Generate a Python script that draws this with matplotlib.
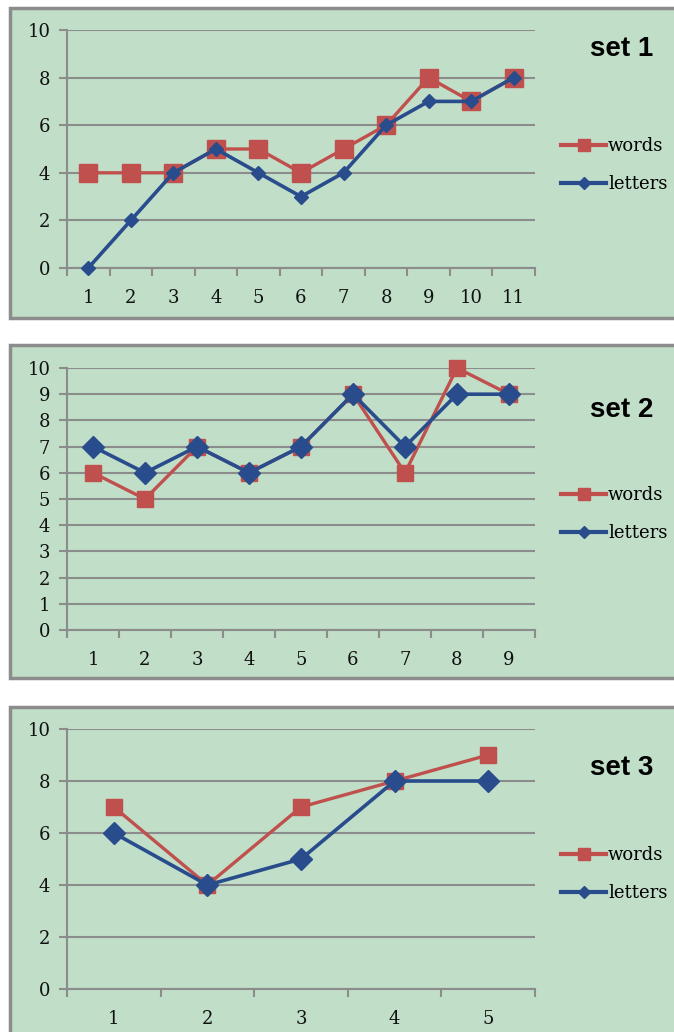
import matplotlib.pyplot as plt
from matplotlib.lines import Line2D
from matplotlib.patches import Rectangle

W, H = 674, 1032

# three sets of results, words vs letters
set1_words = [4, 4, 4, 5, 5, 4, 5, 6, 8, 7, 8]
set1_letters = [0, 2, 4, 5, 4, 3, 4, 6, 7, 7, 8]
set2_words = [6, 5, 7, 6, 7, 9, 6, 10, 9]
set2_letters = [7, 6, 7, 6, 7, 9, 7, 9, 9]
set3_words = [7, 4, 7, 8, 9]
set3_letters = [6, 4, 5, 8, 8]

titles = ['set 1', 'set 2', 'set 3']
y_steps = [2, 1, 2]

bg = '#c0dec8'
grey = '#8c8c8c'
red = '#c0504d'
blue = '#284c8c'
tick_font = 'DejaVu Serif'


def fx(x):
    return x / W


def fy(y):
    return 1 - y / H


fig = plt.figure(figsize=(W / 100, H / 100), dpi=100)
fig.patch.set_facecolor('white')

# panel frames (top, bottom) and plot areas (top, bottom) in pixels
frames = [(8, 318), (345, 678), (707, 1045)]
areas = [(30, 268), (368, 630), (729, 989)]
title_y = [49, 410, 768]
legend_y = [146, 495, 855]
sq_size = [13, 12, 12]
dm_size = [7, 11, 11]

data = [(set1_words, set1_letters), (set2_words, set2_letters), (set3_words, set3_letters)]

for i, (words, letters) in enumerate(data):
    ft, fb = frames[i]
    fig.patches.append(Rectangle((fx(10), fy(fb)), fx(700) - fx(10), fy(ft) - fy(fb),
                                 transform=fig.transFigure, facecolor=bg,
                                 edgecolor=grey, linewidth=2.5, zorder=-5))
    at, ab = areas[i]
    ax = fig.add_axes([fx(67), fy(ab), fx(535) - fx(67), fy(at) - fy(ab)])
    ax.set_facecolor('none')

    n = len(words)
    xs = list(range(1, n + 1))
    ax.plot(xs, words, color=red, lw=2.4, marker='s', ms=sq_size[i],
            mec=red, mfc=red, label='words', zorder=3, clip_on=False)
    ax.plot(xs, letters, color=blue, lw=2.6, marker='D', ms=dm_size[i],
            mec=blue, mfc=blue, label='letters', zorder=4, clip_on=False)

    ax.set_xlim(0.5, n + 0.5)
    ax.set_ylim(0, 10)
    ax.set_yticks(range(0, 11, y_steps[i]))
    ax.set_xticks(xs)
    ax.set_xticks([k + 0.5 for k in range(0, n + 1)], minor=True)
    ax.yaxis.grid(True, color=grey, lw=1.5)
    ax.set_axisbelow(True)
    for s in ['top', 'right']:
        ax.spines[s].set_visible(False)
    for s in ['left', 'bottom']:
        ax.spines[s].set_color(grey)
        ax.spines[s].set_linewidth(1.5)
    ax.tick_params(axis='x', which='major', length=0, pad=15)
    ax.tick_params(axis='x', which='minor', length=6, width=1.5, color=grey)
    ax.tick_params(axis='y', length=6, width=1.5, color=grey, pad=6)
    for lab in ax.get_xticklabels() + ax.get_yticklabels():
        lab.set_family(tick_font)
        lab.set_fontsize(13)
        lab.set_color('#111111')

    fig.text(fx(622), fy(title_y[i]), titles[i], ha='center', va='center',
             family='Liberation Sans', weight='bold', fontsize=20)

    handles = [Line2D([], [], color=red, lw=3, marker='s', ms=9),
               Line2D([], [], color=blue, lw=3, marker='D', ms=6)]
    ax.legend(handles, ['words', 'letters'], loc='upper left',
              bbox_to_anchor=(fx(561), fy(legend_y[i] - 9)),
              bbox_transform=fig.transFigure, frameon=False,
              handlelength=2.5, handletextpad=0.1, labelspacing=1.1,
              borderpad=0, borderaxespad=0,
              prop={'family': tick_font, 'size': 13})

fig.savefig('out.png', dpi=100, facecolor='white')
